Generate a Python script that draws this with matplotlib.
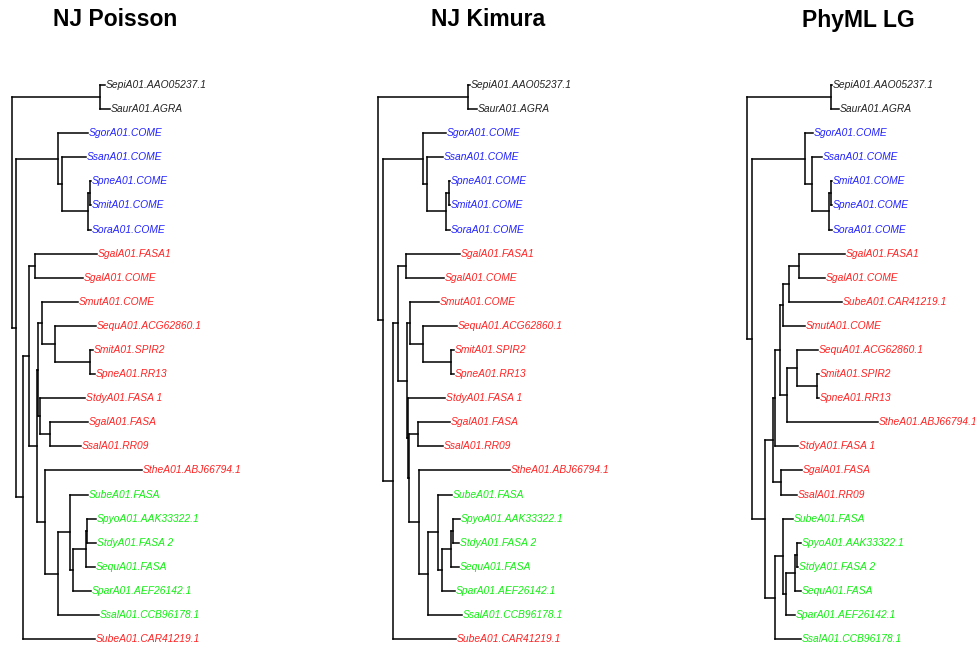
import matplotlib
matplotlib.use("Agg")
import matplotlib.pyplot as plt

plt.rcParams['font.family'] = ['Liberation Sans', 'DejaVu Sans']

# three trees of the same 24 sequences, branch lengths
titles = ["NJ Poisson", "NJ Kimura", "PhyML LG"]

nj_poisson = ("((SepiA01.AAO05237.1:0.05,SaurA01.AGRA:0.10):0.88,"
              "((SgorA01.COME:0.30,(SsanA01.COME:0.24,((SpneA01.COME:0.01,SmitA01.COME:0.01):0.02,"
              "SoraA01.COME:0.03):0.26):0.04):0.42,"
              "(((SgalA01.FASA1:0.62,SgalA01.COME:0.48):0.06,"
              "(((SmutA01.COME:0.36,(SequA01.ACG62860.1:0.41,(SmitA01.SPIR2:0.03,SpneA01.RR13:0.05):0.35):0.13):0.04,"
              "(StdyA01.FASA 1:0.45,(SgalA01.FASA:0.38,SsalA01.RR09:0.31):0.10):0.02):0.01,"
              "(StheA01.ABJ66794.1:0.97,((SubeA01.FASA:0.18,(((SpyoA01.AAK33322.1:0.09,StdyA01.FASA 2:0.09):0.01,"
              "SequA01.FASA:0.09):0.13,SparA01.AEF26142.1:0.18):0.03):0.12,SsalA01.CCB96178.1:0.41):0.13):0.08):0.08):0.06,"
              "SubeA01.CAR41219.1:0.72):0.07):0.04);")

nj_kimura = ("((SepiA01.AAO05237.1:0.02,SaurA01.AGRA:0.09):0.90,"
             "((SgorA01.COME:0.23,(SsanA01.COME:0.16,((SpneA01.COME:0.01,SmitA01.COME:0.01):0.03,"
             "SoraA01.COME:0.04):0.19):0.04):0.40,"
             "(((SgalA01.FASA1:0.54,SgalA01.COME:0.38):0.08,"
             "((SmutA01.COME:0.29,(SequA01.ACG62860.1:0.34,(SmitA01.SPIR2:0.03,SpneA01.RR13:0.03):0.28):0.13):0.03,"
             "(StdyA01.FASA 1:0.37,((SgalA01.FASA:0.32,SsalA01.RR09:0.25):0.09,"
             "(StheA01.ABJ66794.1:0.91,((SubeA01.FASA:0.14,(((SpyoA01.AAK33322.1:0.07,StdyA01.FASA 2:0.06):0.02,"
             "SequA01.FASA:0.08):0.09,SparA01.AEF26142.1:0.13):0.04):0.10,SsalA01.CCB96178.1:0.34):0.09):0.10):0.01):0.01):0.09):0.05,"
             "SubeA01.CAR41219.1:0.63):0.10):0.05);")

phyml_lg = ("((SepiA01.AAO05237.1:0.01,SaurA01.AGRA:0.08):0.84,"
            "((SgorA01.COME:0.08,(SsanA01.COME:0.10,((SmitA01.COME:0.01,SpneA01.COME:0.01):0.02,"
            "SoraA01.COME:0.03):0.17):0.07):0.53,"
            "(((((((SgalA01.FASA1:0.46,SgalA01.COME:0.26):0.10,SubeA01.CAR41219.1:0.53):0.06,SmutA01.COME:0.22):0.03,"
            "((SequA01.ACG62860.1:0.21,(SmitA01.SPIR2:0.02,SpneA01.RR13:0.02):0.20):0.10,StheA01.ABJ66794.1:0.91):0.07):0.05,"
            "StdyA01.FASA 1:0.23):0.02,"
            "(SgalA01.FASA:0.21,SsalA01.RR09:0.16):0.08):0.08,"
            "((SubeA01.FASA:0.10,(((SpyoA01.AAK33322.1:0.04,StdyA01.FASA 2:0.01):0.02,SequA01.FASA:0.06):0.09,"
            "SparA01.AEF26142.1:0.09):0.03):0.08,SsalA01.CCB96178.1:0.26):0.10):0.13):0.05);")

trees = [nj_poisson, nj_kimura, phyml_lg]

black_tips = ["SepiA01.AAO05237.1", "SaurA01.AGRA"]
blue_tips = ["SgorA01.COME", "SsanA01.COME", "SpneA01.COME", "SmitA01.COME", "SoraA01.COME"]
green_tips = ["SubeA01.FASA", "SpyoA01.AAK33322.1", "StdyA01.FASA 2", "SequA01.FASA",
              "SparA01.AEF26142.1", "SsalA01.CCB96178.1"]


def tip_colour(name):
    if name in black_tips:
        return '#222222'
    if name in blue_tips:
        return '#2222ff'
    if name in green_tips:
        return '#11ee11'
    return '#ff2222'


def parse_newick(s):
    pos = 0

    def node():
        nonlocal pos
        kids = []
        if s[pos] == '(':
            pos += 1
            while True:
                kids.append(node())
                if s[pos] == ',':
                    pos += 1
                else:
                    break
            pos += 1  # closing bracket
        start = pos
        while pos < len(s) and s[pos] not in ':,);':
            pos += 1
        name = s[start:pos]
        length = 0.0
        if pos < len(s) and s[pos] == ':':
            pos += 1
            start = pos
            while s[pos] not in ',);':
                pos += 1
            length = float(s[start:pos])
        return {'name': name, 'len': length, 'kids': kids}

    return node()


def layout(nd, x0, counter):
    # ape style: tips 1..n from the top, internal node in the middle of its outer children
    nd['x'] = x0 + nd['len']
    if not nd['kids']:
        counter[0] += 1
        nd['y'] = counter[0]
    else:
        for k in nd['kids']:
            layout(k, nd['x'], counter)
        nd['y'] = (nd['kids'][0]['y'] + nd['kids'][-1]['y']) / 2


def draw(ax, nd):
    if not nd['kids']:
        ax.text(nd['x'] + 0.012, nd['y'], nd['name'], fontsize=7.4, style='italic',
                color=tip_colour(nd['name']), ha='left', va='center', clip_on=False)
        return
    ax.vlines(nd['x'], nd['kids'][0]['y'], nd['kids'][-1]['y'], color='black',
              linewidth=1.1, capstyle='projecting')
    for k in nd['kids']:
        ax.hlines(k['y'], nd['x'], k['x'], color='black', linewidth=1.1, capstyle='projecting')
        draw(ax, k)


W, H = 975, 646
panel_w = 325
root_px = [12, 378, 747]      # where each root sits, in pixels
title_px = [115, 488, 858]
px_per_unit = 100
tip_top, tip_step = 85, 24.09

fig = plt.figure(figsize=(W / 100, H / 100), dpi=100)
for i, (title, nwk) in enumerate(zip(titles, trees)):
    x0 = i * panel_w
    ax = fig.add_axes([x0 / W, 0, panel_w / W, 1])
    ax.set_axis_off()
    tree = parse_newick(nwk)
    tree['len'] = 0.0
    layout(tree, 0.0, [0])
    draw(ax, tree)
    ax.set_xlim((x0 - root_px[i]) / px_per_unit, (x0 + panel_w - root_px[i]) / px_per_unit)
    ax.set_ylim(1 + (H - tip_top) / tip_step, 1 - tip_top / tip_step)
    fig.text(title_px[i] / W, 1 - 20 / H, title, fontsize=16.5, fontweight='bold',
             ha='center', va='center')

fig.savefig('out.png', dpi=100)
